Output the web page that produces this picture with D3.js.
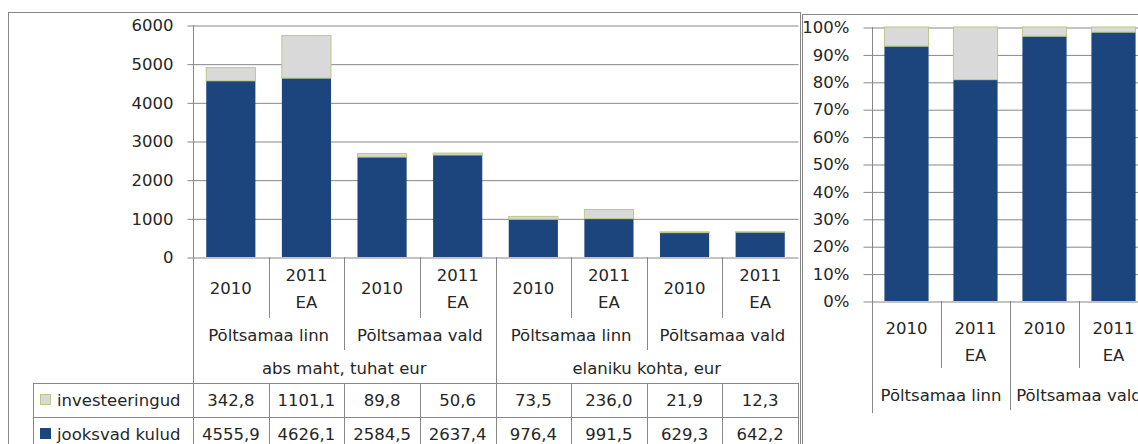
<!DOCTYPE html>
<html>
<head>
<meta charset="utf-8">
<script src="https://cdn.jsdelivr.net/npm/d3@7"></script>
<style>
  body { margin: 0; background: #fff; }
  text { font-family: "DejaVu Sans", Verdana, sans-serif; font-size: 16.5px; fill: #262626; }
</style>
</head>
<body>
<div id="chart"></div>
<script>
// category levels
const measures = ["abs maht, tuhat eur", "elaniku kohta, eur"];
const places = ["Põltsamaa linn", "Põltsamaa vald"];
const periods = [["2010"], ["2011", "EA"]];

// series values (same order: measure > place > period)
const investeeringud = [342.8, 1101.1, 89.8, 50.6, 73.5, 236.0, 21.9, 12.3];
const jooksvadKulud = [4555.9, 4626.1, 2584.5, 2637.4, 976.4, 991.5, 629.3, 642.2];
const seriesNames = ["investeeringud", "jooksvad kulud"];

const leftTicks = [0, 1000, 2000, 3000, 4000, 5000, 6000];
const rightTicks = [0, 0.1, 0.2, 0.3, 0.4, 0.5, 0.6, 0.7, 0.8, 0.9, 1];

const navy = "#1c457d", light = "#d9d9d9", lightEdge = "#b9c983", gridCol = "#878787";

const rows = [];
measures.forEach((m, mi) => places.forEach((p, pi) => periods.forEach((per, ti) => {
    const i = rows.length;
    rows.push({i, measure: m, place: p, period: per, jooksvad: jooksvadKulud[i], invest: investeeringud[i]});
})));

const fmt = d3.formatLocale({decimal: ",", thousands: "", grouping: [3], currency: ["", ""]}).format(".1f");

const svg = d3.select("#chart").append("svg").attr("width", 1138).attr("height", 444);

// ---------- left chart ----------
svg.append("rect").attr("x", 8.5).attr("y", 12.5).attr("width", 792).attr("height", 500)
    .attr("fill", "#fff").attr("stroke", gridCol);

const x = d3.scaleBand().domain(rows.map(d => d.i)).range([193, 798]).paddingInner(0.35).paddingOuter(0.175);
const step = x.step();
const y = d3.scaleLinear().domain([0, 6000]).range([257, 25]);

const grid = svg.append("g").attr("transform", "translate(193.5,0)")
    .call(d3.axisLeft(y).tickValues(leftTicks).tickSize(-605).tickFormat(""));
grid.select(".domain").remove();
grid.selectAll("line").attr("stroke", gridCol).attr("transform", "translate(0,0.5)");

const yAxis = svg.append("g").attr("transform", "translate(193.5,0)")
    .call(d3.axisLeft(y).tickValues(leftTicks).tickSize(6).tickPadding(14).tickFormat(d3.format("d")));
yAxis.select(".domain").remove();
yAxis.selectAll("line").attr("stroke", gridCol).attr("transform", "translate(0,0.5)");
yAxis.selectAll("text").attr("font-family", null).attr("font-size", null).attr("dy", "0.35em");

const stack = d3.stack().keys(["jooksvad", "invest"]);
const stacked = stack(rows);

svg.append("g").selectAll("g").data(stacked).join("g")
    .attr("fill", (d, k) => k === 0 ? navy : light)
    .attr("stroke", (d, k) => k === 0 ? "none" : lightEdge)
    .selectAll("rect").data(d => d).join("rect")
    .attr("x", d => x(d.data.i))
    .attr("y", d => y(d[1]))
    .attr("width", x.bandwidth())
    .attr("height", d => y(d[0]) - y(d[1]));

// axis line and category separators
const sep = svg.append("g").attr("stroke", gridCol);
sep.append("line").attr("x1", 193.5).attr("x2", 193.5).attr("y1", 25).attr("y2", 383);
d3.range(1, 8).forEach(i => {
    const xx = Math.round(193 + i * step) + 0.5;
    const y2 = i % 4 === 0 ? 383 : (i % 2 === 0 ? 350 : 318);
    sep.append("line").attr("x1", xx).attr("x2", xx).attr("y1", 257).attr("y2", y2);
});

const labels = svg.append("g").attr("text-anchor", "middle");
rows.forEach(d => {
    const cx = x(d.i) + x.bandwidth() / 2;
    const ys = d.period.length === 1 ? [288] : [275, 302];
    d.period.forEach((t, k) => labels.append("text").attr("x", cx).attr("y", ys[k]).attr("dy", "0.35em").text(t));
});
d3.range(4).forEach(g => {
    const cx = 193 + (g * 2 + 1) * step;
    labels.append("text").attr("x", cx).attr("y", 335).attr("dy", "0.35em").text(rows[g * 2].place);
});
measures.forEach((m, k) => {
    labels.append("text").attr("x", 193 + (k * 4 + 2) * step).attr("y", 368).attr("dy", "0.35em").text(m);
});

// data table
const tableTop = 383, rowH = 34;
const table = svg.append("g");
const tSeries = [{name: seriesNames[0], vals: investeeringud, col: light, edge: lightEdge},
                 {name: seriesNames[1], vals: jooksvadKulud, col: navy, edge: navy}];
[0, 1, 2].forEach(r => table.append("line").attr("stroke", gridCol)
    .attr("x1", 33).attr("x2", 798).attr("y1", tableTop + r * rowH + 0.5).attr("y2", tableTop + r * rowH + 0.5));
table.append("line").attr("stroke", gridCol).attr("x1", 33.5).attr("x2", 33.5).attr("y1", tableTop).attr("y2", 460);
d3.range(0, 9).forEach(i => {
    const xx = Math.round(193 + i * step) + 0.5;
    table.append("line").attr("stroke", gridCol).attr("x1", xx).attr("x2", xx).attr("y1", tableTop).attr("y2", 460);
});
tSeries.forEach((s, r) => {
    const cy = tableTop + r * rowH + rowH / 2;
    table.append("rect").attr("x", 40.5).attr("y", cy - 5.5).attr("width", 10).attr("height", 10)
        .attr("fill", s.col).attr("stroke", s.edge);
    table.append("text").attr("x", 57).attr("y", cy).attr("dy", "0.35em").text(s.name);
    s.vals.forEach((v, i) => table.append("text").attr("text-anchor", "middle")
        .attr("x", x(i) + x.bandwidth() / 2).attr("y", cy).attr("dy", "0.35em").text(fmt(v)));
});

// ---------- right chart (100% stacked, abs maht) ----------
const right = svg.append("g");
right.append("rect").attr("x", 802.5).attr("y", 14.5).attr("width", 400).attr("height", 500)
    .attr("fill", "#fff").attr("stroke", gridCol);

const absRows = rows.filter(d => d.measure === measures[0]);
const xr = d3.scaleBand().domain(absRows.map(d => d.i)).range([872, 1148]).paddingInner(0.36).paddingOuter(0.18);
const stepR = xr.step();
const yr = d3.scaleLinear().domain([0, 1]).range([301, 27]);

const gridR = right.append("g").attr("transform", "translate(872.5,0)")
    .call(d3.axisLeft(yr).tickValues(rightTicks).tickSize(-276).tickFormat(""));
gridR.select(".domain").remove();
gridR.selectAll("line").attr("stroke", gridCol).attr("transform", "translate(0,0.5)");

const yAxisR = right.append("g").attr("transform", "translate(872.5,0)")
    .call(d3.axisLeft(yr).tickValues(rightTicks).tickSize(9).tickPadding(14).tickFormat(d3.format(".0%")));
yAxisR.select(".domain").remove();
yAxisR.selectAll("line").attr("stroke", gridCol).attr("transform", "translate(0,0.5)");
yAxisR.selectAll("text").attr("font-family", null).attr("font-size", null).attr("dy", "0.35em");

const stackedR = d3.stack().keys(["jooksvad", "invest"]).offset(d3.stackOffsetExpand)(absRows);
right.append("g").selectAll("g").data(stackedR).join("g")
    .attr("fill", (d, k) => k === 0 ? navy : light)
    .attr("stroke", (d, k) => k === 0 ? "none" : lightEdge)
    .selectAll("rect").data(d => d).join("rect")
    .attr("x", d => xr(d.data.i))
    .attr("y", d => yr(d[1]))
    .attr("width", xr.bandwidth())
    .attr("height", d => yr(d[0]) - yr(d[1]));

const sepR = right.append("g").attr("stroke", gridCol);
sepR.append("line").attr("x1", 872.5).attr("x2", 872.5).attr("y1", 27).attr("y2", 413);
d3.range(1, 4).forEach(i => {
    const xx = Math.round(872 + i * stepR) + 0.5;
    sepR.append("line").attr("x1", xx).attr("x2", xx).attr("y1", 301).attr("y2", i % 2 === 0 ? 410 : 368);
});

const labelsR = right.append("g").attr("text-anchor", "middle");
absRows.forEach(d => {
    const cx = xr(d.i) + xr.bandwidth() / 2;
    d.period.forEach((t, k) => labelsR.append("text").attr("x", cx).attr("y", 328 + k * 27).attr("dy", "0.35em").text(t));
});
places.forEach((p, k) => {
    labelsR.append("text").attr("x", 872 + (k * 2 + 1) * stepR).attr("y", 395).attr("dy", "0.35em").text(p);
});
</script>
</body>
</html>
